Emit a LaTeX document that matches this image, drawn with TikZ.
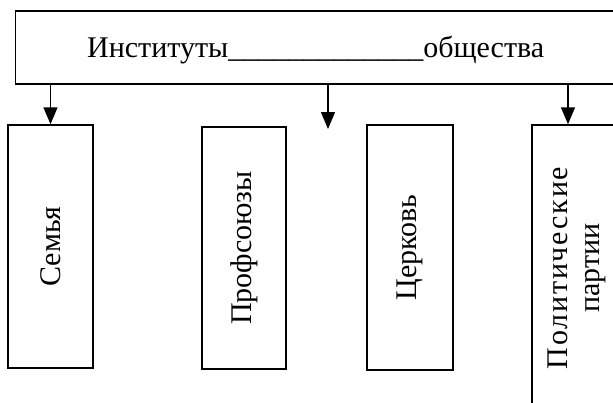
\documentclass[tikz,border=0pt]{standalone}
\usepackage{fontspec}
\setmainfont{Liberation Serif}
\usetikzlibrary{arrows.meta}
\begin{document}
\begin{tikzpicture}[x=1pt,y=-1pt,
		line width=1.5pt,
		box/.style={draw,rectangle,inner sep=0pt,font=\fontsize{30}{40}\selectfont},
		arr/.style={-{Triangle[width=14pt,length=17pt]}}]
	\clip (0,0) rectangle (613,402);
	\node [box,minimum width=600pt,minimum height=73pt,text height=21pt,text depth=2pt] (inst) at (315.7,47.5)
		{Институты\_\_\_\_\_\_\_\_\_\_\_\_\_общества};
	\node [box,minimum width=85pt,minimum height=243pt] (semya) at (50.5,246.5) {\rotatebox{90}{Семья}};
	\node [box,minimum width=84pt,minimum height=242pt] (prof) at (244,248) {\rotatebox{90}{Профсоюзы}};
	\node [box,minimum width=86pt,minimum height=245pt] (church) at (410,247.5) {\rotatebox{90}{Церковь}};
	\node [box,minimum width=96pt,minimum height=300pt] (party) at (580,275) {};
	\node [font=\fontsize{30}{32}\selectfont,inner sep=0pt] (partytxt) at (577,268)
		{\rotatebox{90}{\begin{tabular}{@{}c@{}}{\addfontfeature{LetterSpace=6}Политические}\\партии\end{tabular}}};
	\coordinate (free) at (328,129);
	\coordinate (pin) at (568,0);
	\draw [arr] (inst.south -| semya.north) -- (semya.north);
	\draw [arr] (inst.south -| free) -- (free);
	\draw [arr] (inst.south -| pin) -- (party.north -| pin);
\end{tikzpicture}
\end{document}
